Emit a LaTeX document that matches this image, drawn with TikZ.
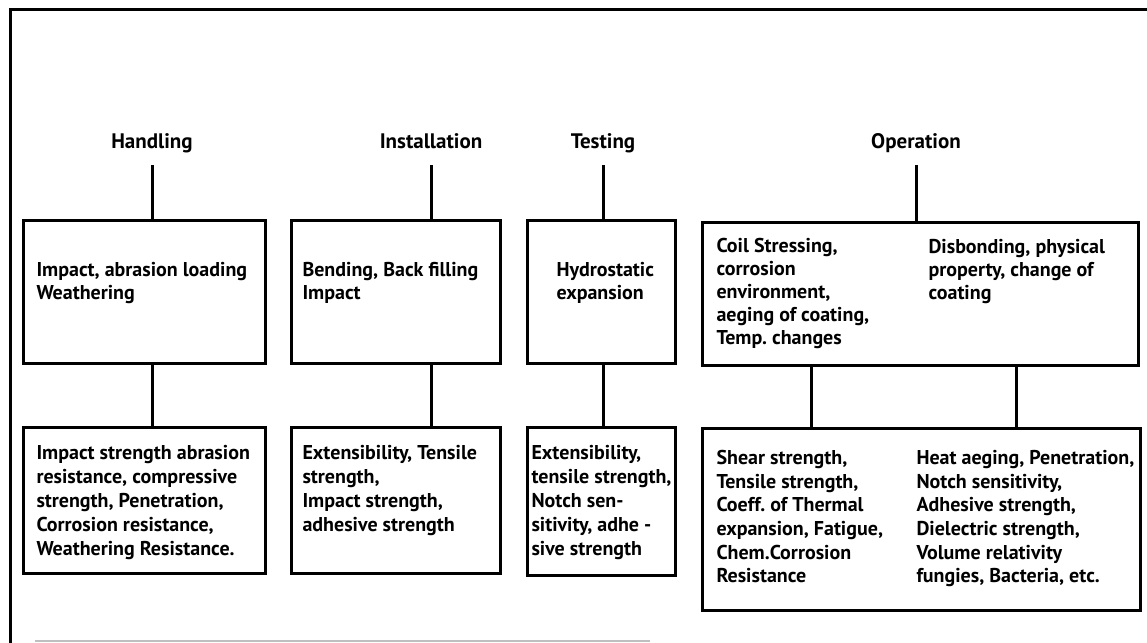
\documentclass[tikz,border=0pt]{standalone}
\usepackage{fontspec}
\setmainfont{PT Sans}
\usetikzlibrary{positioning}
\frenchspacing

\begin{document}
\begin{tikzpicture}[x=0.5pt,y=-0.5pt,line width=1.5pt,
  box/.style={draw,inner sep=0pt},
  ttl/.style={font=\fontsize{10.5}{12}\selectfont\bfseries,inner sep=0pt,text height=7.5pt,text depth=2pt},
  txt/.style={font=\fontsize{10}{11.5}\selectfont\bfseries,align=left,inner sep=0pt,anchor=north west},
  txtlo/.style={txt,font=\fontsize{10}{12}\selectfont\bfseries}]
\useasboundingbox (0,0) rectangle (1147,643);
\draw (10,643) -- (10,9) -- (1147,9);
\draw[gray!50,line width=0.8pt] (35,641) -- (650,641);
\foreach \nm/\x/\txt in {hdl/152/Handling,ins/431/Installation,tst/603/Testing,opr/916/Operation}
  \node[ttl] (\nm) at (\x,143) {\txt};
% upper boxes
\node[box,minimum width=121pt,minimum height=71.5pt] (hdlA) at (144,291.5) {};
\node[box,minimum width=104.5pt,minimum height=71.5pt] (insA) at (395.5,291.5) {};
\node[box,minimum width=74pt,minimum height=71.5pt] (tstA) at (601,291.5) {};
\node[box,minimum width=218pt,minimum height=71.5pt] (oprA) at (920,293.5) {};
% lower boxes
\node[box,minimum width=121pt,minimum height=73pt] (hdlB) at (144,500) {};
\node[box,minimum width=104.5pt,minimum height=73pt] (insB) at (395.5,500) {};
\node[box,minimum width=74pt,minimum height=74pt] (tstB) at (601,501) {};
\node[box,minimum width=219pt,minimum height=91pt] (oprB) at (921,519) {};
\foreach \nm in {hdl,ins,tst,opr}
  \draw[shorten <=5.5pt] (\nm.south) -- (\nm |- \nm A.north);
\foreach \nm in {hdl,ins,tst}
  \draw (\nm |- \nm A.south) -- (\nm |- \nm B.north);
\draw ([xshift=55.5pt]oprA.south west) -- ([xshift=55.5pt]oprA.south west |- oprB.north);
\draw ([xshift=158pt]oprA.south west) -- ([xshift=158pt]oprA.south west |- oprB.north);
% texts
\node[txt] (hdlAt) at (35,261) {Impact, abrasion loading\\Weathering};
\node[txt] (insAt) at (301,261) {Bending, Back filling\\Impact};
\node[txt] (tstAt) at (555,261) {Hydrostatic\\expansion};
\node[txt] (oprAl) at (715,237) {Coil Stressing,\\corrosion\\environment,\\aeging of coating,\\Temp. changes};
\node[txt] (oprAr) at (927,238) {Disbonding, physical\\property, change of\\coating};
\node[txtlo] (hdlBt) at (35,444) {Impact strength abrasion\\resistance, compressive\\strength, Penetration,\\Corrosion resistance,\\Weathering Resistance.};
\node[txtlo] (insBt) at (301,444) {Extensibility, Tensile\\strength,\\Impact strength,\\adhesive strength};
\node[txtlo] (tstBt) at (530,444) {Extensibility,\\tensile strength,\\Notch sen-\\sitivity, adhe -\\sive strength};
\node[txt,font=\fontsize{10}{11.8}\selectfont\bfseries] (oprBl) at (715,449) {Shear strength,\\Tensile strength,\\Coeff. of Thermal\\expansion, Fatigue,\\Chem.Corrosion\\Resistance};
\node[txt,font=\fontsize{10}{11.8}\selectfont\bfseries] (oprBr) at (915,449) {Heat aeging, Penetration,\\Notch sensitivity,\\Adhesive strength,\\Dielectric strength,\\Volume relativity\\fungies, Bacteria, etc.};
\end{tikzpicture}
\end{document}
